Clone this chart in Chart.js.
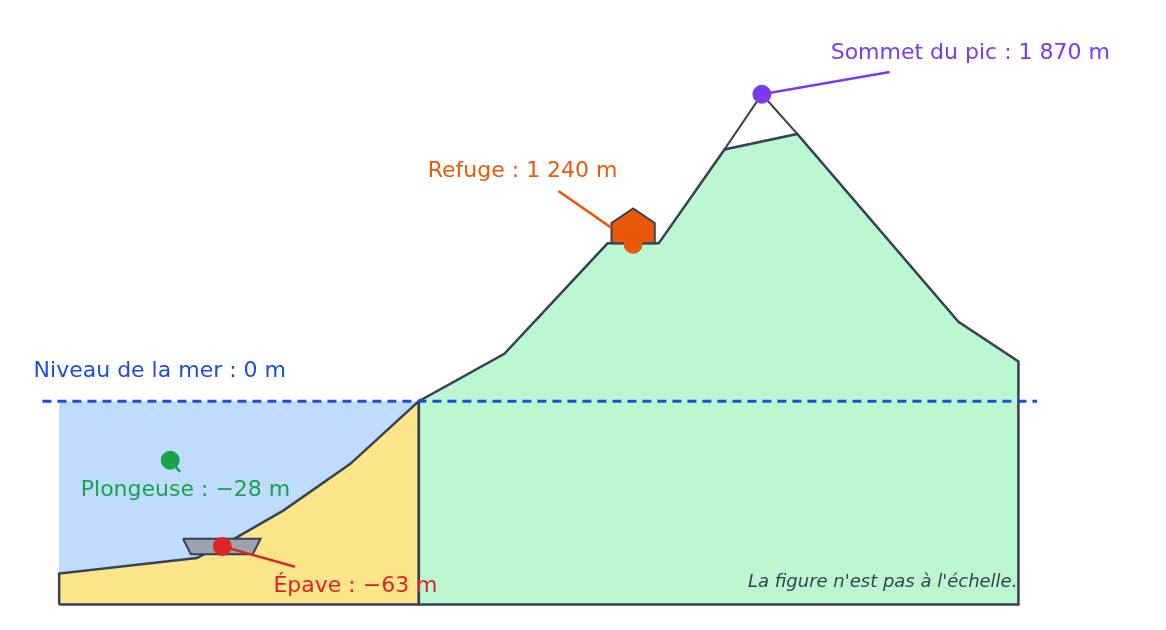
<!DOCTYPE html>
<html><head><meta charset="utf-8">
<script src="https://cdn.jsdelivr.net/npm/chart.js@4"></script>
<style>html,body{margin:0;padding:0;background:#fff}#w{width:1166px;height:630px}</style>
</head><body><div id="w"><canvas id="c"></canvas></div>
<script>
// Diagram coordinates (x: 0..1166, y: 0..630 with 0 at bottom)
const H = 630;
const seaX = [50, 416, 416, 50, 50];
const seaY = [226, 226, 16, 16, 226];
const bedX = [50, 50, 190, 225, 278, 346, 416, 416, 50];
const bedY = [16, 48, 64, 82, 113, 161, 226, 16, 16];
const mountX = [416, 416, 503, 608, 660, 727, 801, 965, 1026, 1026, 416];
const mountY = [16, 226, 275, 389, 389, 486, 502, 308, 267, 16, 16];
const peakX = [727, 765, 801];
const peakY = [486, 543, 502];
const boatX = [176, 255, 247, 184, 176];
const boatY = [84, 84, 68, 68, 84];
const hutX = [612, 612, 634, 656, 656, 612];
const hutY = [389, 410, 425, 410, 389, 389];
const seaLineX = [33, 1045];
const seaLineY = [226, 226];
const markers = [
  {name:'Sommet du pic : 1 870 m', x:765, y:543, lx:895, ly:566, tx:835, ty:585, color:'#7c3aed'},
  {name:'Refuge : 1 240 m', x:634, y:388, lx:558, ly:443, tx:425, ty:463, color:'#ea580c', from:[612,405]},
  {name:'Plongeuse : −28 m', x:163, y:165, lx:173, ly:153, tx:72, ty:134, color:'#16a34a'},
  {name:'Épave : −63 m', x:216, y:76, lx:290, ly:55, tx:268, ty:35, color:'#dc2626'}
];
const seaLabel = {text:'Niveau de la mer : 0 m', x:24, y:257, color:'#1d4ed8'};
const note = {text:"La figure n'est pas à l'échelle.", x:1025, y:39};

const pts = (xs, ys) => xs.map((x, i) => ({x, y: ys[i]}));
const outline = '#374151';
const datasets = [
  {data:pts(seaX,seaY), showLine:true, fill:'shape', backgroundColor:'#bfdbfe', borderWidth:0, pointRadius:0, order:10},
  {data:pts(bedX,bedY), showLine:true, fill:'shape', backgroundColor:'#fde68a', borderColor:outline, borderWidth:2.5, pointRadius:0, order:9},
  {data:pts(mountX,mountY), showLine:true, fill:'shape', backgroundColor:'#bbf7d0', borderColor:outline, borderWidth:2.5, pointRadius:0, order:8},
  {data:pts(peakX,peakY), showLine:true, borderColor:outline, borderWidth:2, pointRadius:0, order:7},
  {data:pts(seaLineX,seaLineY), showLine:true, borderColor:'#1d4ed8', borderWidth:3, borderDash:[9,6], pointRadius:0, order:6},
  {data:pts(boatX,boatY), showLine:true, fill:'shape', backgroundColor:'#9ca3af', borderColor:outline, borderWidth:2, pointRadius:0, order:5},
  {data:pts(hutX,hutY), showLine:true, fill:'shape', backgroundColor:'#ea580c', borderColor:outline, borderWidth:2, pointRadius:0, order:4}
];
markers.forEach((m, i) => {
  const f = m.from || [m.x, m.y];
  datasets.push({data:[{x:f[0],y:f[1]},{x:m.lx,y:m.ly}], showLine:true, borderColor:m.color, borderWidth:2.5, pointRadius:0, order:3});
  datasets.push({data:[{x:m.x,y:m.y}], showLine:false, backgroundColor:m.color, borderColor:m.color, pointRadius:9, order:2});
});

const textPlugin = {
  id:'texts',
  afterDatasetsDraw(chart){
    const {ctx, scales:{x, y}} = chart;
    ctx.save();
    ctx.textBaseline = 'middle';
    ctx.font = '22px "DejaVu Sans"';
    ctx.textAlign = 'left';
    markers.forEach(m => { ctx.fillStyle = m.color; ctx.fillText(m.name, x.getPixelForValue(m.tx), y.getPixelForValue(m.ty)); });
    ctx.fillStyle = seaLabel.color;
    ctx.fillText(seaLabel.text, x.getPixelForValue(seaLabel.x), y.getPixelForValue(seaLabel.y));
    ctx.font = 'italic 18px "DejaVu Sans"';
    ctx.fillStyle = '#374151';
    ctx.textAlign = 'right';
    ctx.fillText(note.text, x.getPixelForValue(note.x), y.getPixelForValue(note.y));
    ctx.restore();
  }
};

new Chart(document.getElementById('c'), {
  type:'scatter',
  data:{datasets},
  options:{
    responsive:true, maintainAspectRatio:false, animation:false,
    layout:{padding:0},
    plugins:{legend:{display:false}, tooltip:{enabled:false}},
    scales:{
      x:{type:'linear', min:0, max:1166, display:false},
      y:{type:'linear', min:0, max:H, display:false}
    }
  },
  plugins:[textPlugin]
});
</script></body></html>
